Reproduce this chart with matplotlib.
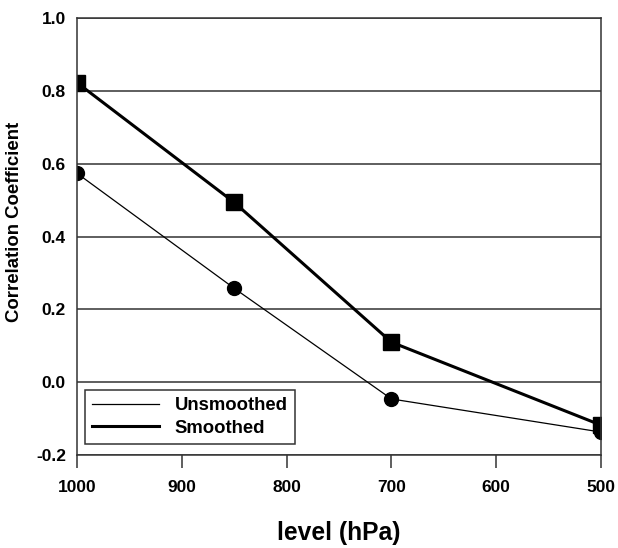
import matplotlib.pyplot as plt

plt.rcParams['font.family'] = ['Liberation Sans', 'DejaVu Sans']
plt.rcParams['font.weight'] = 'bold'
plt.rcParams['axes.unicode_minus'] = False

levels = [1000, 850, 700, 500]
unsmoothed = [0.574, 0.258, -0.046, -0.137]
smoothed = [0.823, 0.494, 0.110, -0.118]

fig = plt.figure(figsize=(6.18, 5.48), dpi=100)
ax = fig.add_axes([0.1246, 0.1697, 0.848, 0.797])

ax.plot(levels, unsmoothed, color='black', lw=0.9, marker='o', ms=10,
        label='Unsmoothed')
ax.plot(levels, smoothed, color='black', lw=2.2, marker='s', ms=11,
        label='Smoothed')

ax.set_xlim(1000, 500)
ax.set_ylim(-0.2, 1.0)
ax.set_xticks([1000, 900, 800, 700, 600, 500])
ax.set_yticks([-0.2, 0.0, 0.2, 0.4, 0.6, 0.8, 1.0])
ax.yaxis.grid(True, color='#333333', lw=1.1)
ax.set_axisbelow(True)
for s in ax.spines.values():
    s.set_color('#333333')
    s.set_linewidth(1.1)

ax.tick_params(axis='x', direction='out', length=9, width=1.1, color='#333333',
               labelsize=12.5, pad=9)
ax.tick_params(axis='y', length=0, labelsize=12.5, pad=8)
for lab in ax.get_xticklabels() + ax.get_yticklabels():
    lab.set_fontweight('bold')

ax.set_xlabel('level (hPa)', fontsize=17.7, fontweight='bold', labelpad=19)
ax.set_ylabel('Correlation Coefficient', fontsize=13.4, fontweight='bold')
ax.yaxis.set_label_coords(-0.103, 0.533)

leg = ax.legend(loc='lower left', bbox_to_anchor=(0.0153, 0.0252),
                borderaxespad=0, handlelength=3.6, handletextpad=0.85,
                borderpad=0.4, labelspacing=0.3,
                fancybox=False, framealpha=1, edgecolor='#333333',
                prop={'weight': 'bold', 'size': 13.3})
leg.get_frame().set_linewidth(1.1)
for h in leg.legend_handles:
    h.set_marker('')

fig.savefig('out.png', dpi=100)
